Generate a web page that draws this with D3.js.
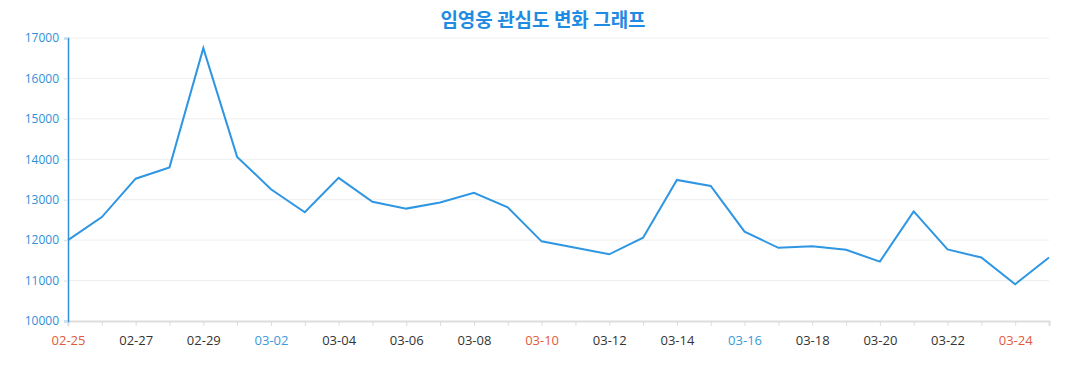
<!DOCTYPE html>
<html><head><meta charset="utf-8">
<script src="https://cdn.jsdelivr.net/npm/d3@7"></script>
<style>
body{margin:0;background:#fff;}
svg text{font-family:"Open Sans","Noto Sans",sans-serif;}
</style></head>
<body><svg id="c" width="1077" height="390"></svg>
<script>
const categories = ["02-25","02-26","02-27","02-28","02-29","03-01","03-02","03-03","03-04","03-05","03-06","03-07","03-08","03-09","03-10","03-11","03-12","03-13","03-14","03-15","03-16","03-17","03-18","03-19","03-20","03-21","03-22","03-23","03-24","03-25"];
const values = [12000,12570,13520,13800,16750,14060,13260,12690,13540,12950,12780,12930,13170,12810,11970,11810,11650,12060,13490,13340,12210,11810,11850,11760,11470,12710,11770,11570,10910,11570];
const yTicks = [10000,11000,12000,13000,14000,15000,16000,17000];
const titleText = "임영웅 관심도 변화 그래프";
const redLabels = ["02-25","03-10","03-24"];
const blueLabels = ["03-02","03-16"];

const svg = d3.select("#c");
const L = 68, R = 1049, T = 38, B = 321;
const x = d3.scalePoint().domain(categories).range([L, R]);
const y = d3.scaleLinear().domain([10000, 17000]).range([B, T]);

// gridlines
svg.append("g").selectAll("line").data(yTicks.slice(1)).join("line")
  .attr("x1", L).attr("x2", R).attr("y1", d => y(d)).attr("y2", d => y(d))
  .attr("stroke", "#eeeeee").attr("stroke-width", 1);

// x axis
const xa = svg.append("g").attr("transform", `translate(0,${B})`)
  .call(d3.axisBottom(x).tickSize(5).tickPadding(10)
    .tickFormat((d, i) => i % 2 === 0 ? d : ""));
xa.select(".domain").attr("stroke", "#dddddd").attr("stroke-width", 2);
xa.selectAll(".tick line").attr("stroke", "#dddddd");
xa.selectAll(".tick text").attr("font-size", 13)
  .attr("fill", d => redLabels.includes(d) ? "#e15a3c" : blueLabels.includes(d) ? "#3a9ad9" : "#333333");

// y axis
const ya = svg.append("g").attr("transform", `translate(${L},0)`)
  .call(d3.axisLeft(y).tickValues(yTicks).tickSize(4).tickPadding(5).tickFormat(d3.format("d")));
ya.select(".domain").attr("stroke", "#2f8fd8").attr("stroke-width", 1.5);
ya.selectAll(".tick line").attr("stroke", "#dddddd");
ya.selectAll(".tick text").attr("font-size", 12).attr("fill", "#2f8fd8");

// line
svg.append("path").datum(values)
  .attr("fill", "none").attr("stroke", "#2e96e2").attr("stroke-width", 2)
  .attr("stroke-linejoin", "miter")
  .attr("d", d3.line().x((d, i) => x(categories[i])).y(d => y(d)));

// title
svg.append("text").attr("x", 543).attr("y", 27).attr("text-anchor", "middle")
  .attr("font-size", 19).attr("font-weight", "bold").attr("fill", "#1f8be3")
  .style("font-family", "'Noto Sans CJK KR', sans-serif")
  .text(titleText);
</script></body></html>
